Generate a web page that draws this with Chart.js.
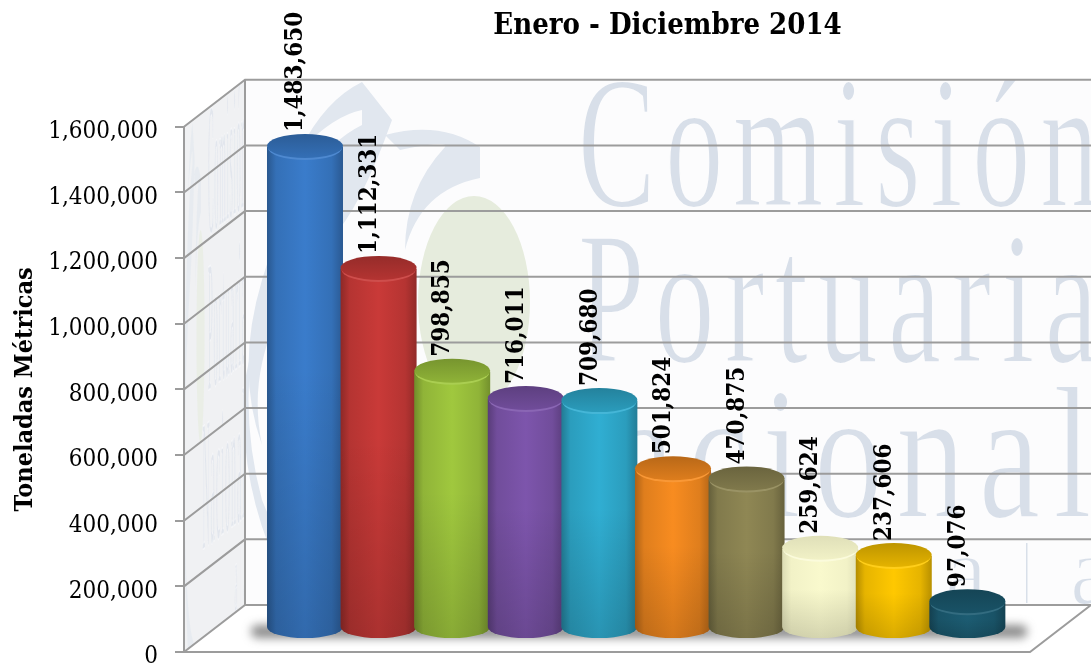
<!DOCTYPE html>
<html>
<head>
<meta charset="utf-8">
<style>html,body{margin:0;padding:0;background:#fff;overflow:hidden}canvas{display:block}</style>
<script src="https://cdn.jsdelivr.net/npm/chart.js@4/dist/chart.umd.min.js"></script>
</head>
<body>
<canvas id="c" width="1091" height="663"></canvas>
<script>
const categories = ['1','2','3','4','5','6','7','8','9','10'];
const values = [1483650,1112331,798855,716011,709680,501824,470875,259624,237606,97076];
const barColors = ['#3a7ccb','#c93a38','#a0c83e','#7d55ac','#30aed2','#f88c20','#8f8754','#f9f9cd','#ffc800','#1c5c72'];
const titleText = 'Enero - Diciembre 2014';
const yAxisTitle = 'Toneladas Métricas';
const FONT = '"DejaVu Serif Condensed","DejaVu Serif"';
const WMFONT = '"Liberation Serif"';

function mix(hex, target, f){
  const n = parseInt(hex.slice(1),16);
  const c = [n>>16&255,n>>8&255,n&255].map(v=>Math.round(v+(target-v)*f));
  return `rgb(${c[0]},${c[1]},${c[2]})`;
}
function stretched(ctx, text, x, base, size, width, color, spacing){
  ctx.save();
  ctx.font = `${size}px ${WMFONT}`;
  ctx.letterSpacing = (spacing||0)+'px';
  ctx.fillStyle = color;
  ctx.textBaseline = 'alphabetic';
  ctx.textAlign = 'left';
  const w = ctx.measureText(text).width;
  ctx.translate(x, base);
  ctx.scale(width/w, 1);
  ctx.fillText(text, 0, 0);
  ctx.strokeStyle = '#fcfcfd';
  ctx.lineWidth = 2;
  ctx.strokeText(text, 0, 0);
  ctx.restore();
}
function watermark(ctx){
  ctx.fillStyle = '#e1e7ef';
  ctx.beginPath();
  ctx.moveTo(362,82); ctx.quadraticCurveTo(325,100,300,150);
  ctx.quadraticCurveTo(335,115,362,110); ctx.lineTo(362,125);
  ctx.quadraticCurveTo(300,155,262,280); ctx.quadraticCurveTo(235,370,262,445);
  ctx.quadraticCurveTo(240,340,330,240); ctx.quadraticCurveTo(360,210,392,120); ctx.closePath();
  ctx.fill();
  ctx.beginPath();
  ctx.moveTo(480,147); ctx.quadraticCurveTo(440,120,385,135); ctx.lineTo(400,150);
  ctx.quadraticCurveTo(450,140,445,147); ctx.quadraticCurveTo(405,190,405,250);
  ctx.quadraticCurveTo(420,190,480,178); ctx.closePath();
  ctx.fill();
  ctx.fillStyle = '#e6ecdd';
  ctx.beginPath(); ctx.ellipse(474,302,56,106,0,0,Math.PI*2); ctx.fill();
  ctx.fillStyle = '#e1e7ef';
  ctx.beginPath();
  ctx.moveTo(262,300); ctx.quadraticCurveTo(235,400,262,500);
  ctx.quadraticCurveTo(300,600,420,610); ctx.lineTo(300,610);
  ctx.quadraticCurveTo(235,500,245,380); ctx.closePath();
  ctx.fill();
  const col = '#d8dfe9';
  stretched(ctx,'Comisión',578,206,188,530,col,16);
  stretched(ctx,'Portuaria',578,362,188,530,col,16);
  stretched(ctx,'Nacional',500,517,188,605,col,18);
  stretched(ctx,'a',945,604,100,42,col);
  ctx.fillStyle = col; ctx.fillRect(1026,543,1.5,60);
  stretched(ctx,'a',1070,604,100,42,col);
}

const scene = {
  id:'scene',
  beforeDraw(chart){
    const {ctx} = chart, y = chart.scales.y, a = chart.chartArea;
    const L = a.left, B = y.getPixelForValue(0), T = y.getPixelForValue(1600000);
    const dx = 61, dy = 47, W = chart.width, FR = 1030;
    ctx.save();
    ctx.fillStyle = '#fcfcfd';
    ctx.fillRect(L+dx, T-dy, W-L-dx, B-T);
    ctx.save();
    ctx.beginPath(); ctx.rect(L+dx, T-dy, W-L-dx, B-T); ctx.clip();
    watermark(ctx);
    ctx.restore();
    ctx.save();
    ctx.beginPath();
    ctx.moveTo(L,T); ctx.lineTo(L+dx,T-dy); ctx.lineTo(L+dx,B-dy); ctx.lineTo(L,B); ctx.closePath();
    ctx.fillStyle = '#f0f1f3'; ctx.fill(); ctx.clip();
    ctx.globalAlpha = .6;
    const sx = dx/846, sy = dy/846;
    ctx.transform(sx,-sy,0,1,L-245*sx,dy+245*sy);
    watermark(ctx);
    ctx.restore();
    ctx.fillStyle = '#ffffff';
    ctx.beginPath();
    ctx.moveTo(L,B); ctx.lineTo(FR,B); ctx.lineTo(FR+dx,B-dy); ctx.lineTo(L+dx,B-dy); ctx.closePath();
    ctx.fill();
    ctx.strokeStyle = '#9c9c9c'; ctx.lineWidth = 2;
    y.ticks.forEach(t=>{
      const p = y.getPixelForValue(t.value);
      ctx.beginPath(); ctx.moveTo(L,p); ctx.lineTo(L+dx,p-dy); ctx.lineTo(W,p-dy); ctx.stroke();
    });
    ctx.beginPath(); ctx.moveTo(L+dx,T-dy); ctx.lineTo(L+dx,B-dy); ctx.stroke();
    ctx.beginPath(); ctx.moveTo(L,B); ctx.lineTo(FR,B); ctx.lineTo(FR+dx,B-dy); ctx.stroke();
    ctx.restore();
  },
  afterLayout(chart){
    const t = chart.titleBlock;
    if(t){ t.left += 122; t.right += 122; }
  },
  beforeDatasetDraw(){ return false; },
  afterDatasetsDraw(chart){
    const {ctx} = chart, meta = chart.getDatasetMeta(0), y = chart.scales.y;
    const lift = 18, ry = 12, baseY = y.getPixelForValue(0) - 25;
    const els = meta.data;
    ctx.save();
    ctx.filter = 'blur(5px)';
    ctx.fillStyle = 'rgba(70,70,70,.62)';
    ctx.beginPath();
    const x0 = els[0].x - els[0].width/2 - 16, x1 = els[els.length-1].x + els[0].width/2 + 22;
    ctx.roundRect(x0, baseY-2, x1-x0, 13, 7);
    ctx.fill();
    ctx.restore();

    els.forEach((el,i)=>{
      const col = barColors[i], rx = el.width/2, cx = el.x, l = cx-rx, r = cx+rx;
      const top = el.y - lift;
      const soft = col === '#f9f9cd';
      const g = ctx.createLinearGradient(l,0,r,0);
      g.addColorStop(0,mix(col,0,soft?.12:.3)); g.addColorStop(.12,mix(col,0,soft?.03:.1));
      g.addColorStop(.5,col); g.addColorStop(.85,mix(col,0,soft?.03:.1)); g.addColorStop(1,mix(col,0,soft?.1:.28));
      ctx.save();
      ctx.beginPath();
      ctx.moveTo(l,top);
      ctx.lineTo(l,baseY);
      ctx.ellipse(cx,baseY,rx,ry-1,0,Math.PI,0,true);
      ctx.lineTo(r,top);
      ctx.closePath();
      ctx.fillStyle = g; ctx.fill();
      ctx.clip();
      const v = ctx.createLinearGradient(0,top,0,baseY+12);
      v.addColorStop(0,'rgba(0,0,0,0)'); v.addColorStop(.45,'rgba(0,0,0,0)'); v.addColorStop(1,'rgba(0,0,0,.15)');
      ctx.fillStyle = v; ctx.fillRect(l,top-2,el.width,baseY-top+16);
      ctx.restore();
      ctx.fillStyle = mix(col,255,soft?.3:.1);
      ctx.beginPath(); ctx.ellipse(cx,top+1,rx-1,ry,0,0,Math.PI*2); ctx.fill();
      const lid = ctx.createLinearGradient(0,top-ry,0,top+ry);
      lid.addColorStop(0,mix(col,0,soft?.1:.25)); lid.addColorStop(1,mix(col,0,soft?.03:.1));
      ctx.fillStyle = lid;
      ctx.beginPath(); ctx.ellipse(cx,top-1,rx,ry,0,0,Math.PI*2); ctx.fill();
    });

    ctx.save();
    ctx.fillStyle = '#000';
    ctx.font = `bold 24px ${FONT}`;
    ctx.textAlign = 'left';
    ctx.textBaseline = 'middle';
    els.forEach((el,i)=>{
      ctx.save();
      ctx.translate(el.x-10, el.y-lift-15);
      ctx.rotate(-Math.PI/2);
      ctx.fillText(values[i].toLocaleString('en-US'),0,1);
      ctx.restore();
    });
    ctx.restore();
  }
};

new Chart(document.getElementById('c'),{
  type:'bar',
  data:{
    labels:categories,
    datasets:[{
      data:values.map((v,i)=>({x:i+1,y:v})),
      backgroundColor:barColors,
      barThickness:76
    }]
  },
  options:{
    responsive:false,
    animation:false,
    layout:{padding:{left:0,right:0,top:0,bottom:11}},
    plugins:{
      legend:{display:false},
      tooltip:{enabled:false},
      title:{
        display:true,
        text:titleText,
        color:'#000',
        font:{family:FONT,size:29,weight:'bold',lineHeight:1.2},
        padding:{top:9,bottom:83}
      }
    },
    scales:{
      x:{type:'linear',display:false,min:-0.644,max:11.68,offset:false,grid:{display:false}},
      y:{
        min:0,max:1600000,
        afterFit(s){ s.width = 184; s.paddingBottom = 0; s.paddingTop = 0; },
        grid:{drawOnChartArea:false,drawTicks:true,tickLength:9,color:'#9c9c9c',lineWidth:2},
        border:{color:'#9c9c9c',width:2},
        ticks:{
          stepSize:200000,
          color:'#000',
          padding:17,
          labelOffset:5,
          font:{family:FONT,size:24,lineHeight:.7},
          callback:v=>v.toLocaleString('en-US')
        },
        title:{
          display:true,
          text:yAxisTitle,
          color:'#000',
          font:{family:FONT,size:25,weight:'bold',lineHeight:1},
          padding:{top:13,bottom:0}
        }
      }
    }
  },
  plugins:[scene]
});
</script>
</body>
</html>
